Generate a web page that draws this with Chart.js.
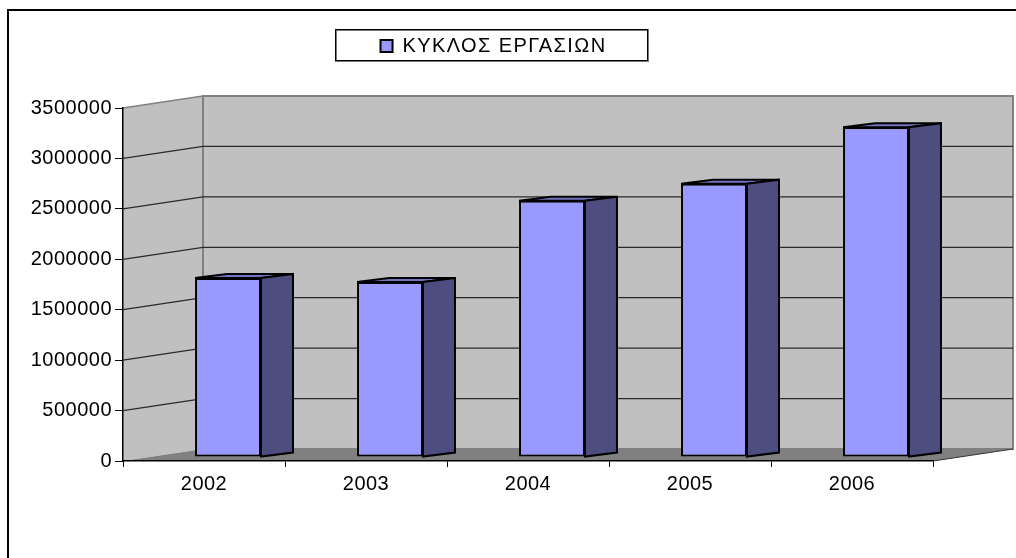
<!DOCTYPE html>
<html>
<head>
<meta charset="utf-8">
<title>ΚΥΚΛΟΣ ΕΡΓΑΣΙΩΝ</title>
<script src="https://cdn.jsdelivr.net/npm/chart.js@4"></script>
<style>
    html, body { margin: 0; padding: 0; background: #fff; }
    #wrap { width: 1016px; height: 558px; }
</style>
</head>
<body>
<div id="wrap"><canvas id="turnover-graph" width="1016" height="558"></canvas></div>
<script>
const categories = ['2002', '2003', '2004', '2005', '2006']
const turnover = [1775000, 1735000, 2540000, 2710000, 3270000]
const seriesName = 'ΚΥΚΛΟΣ ΕΡΓΑΣΙΩΝ'
const yMax = 3500000
const yStep = 500000

// 3d look: how far the back wall and the bars are pushed away from the front axes
const wallDepth = { x: 80, y: -12 }
const barShift = { x: 24, y: -4 }
const barDepth = { x: 32, y: -4 }

function poly(ctx, points, fill, stroke, width){
    ctx.beginPath()
    points.forEach((p, i) => i == 0 ? ctx.moveTo(p[0], p[1]) : ctx.lineTo(p[0], p[1]))
    ctx.closePath()
    if (fill) {
        ctx.fillStyle = fill
        ctx.fill()
    }
    if (stroke) {
        ctx.strokeStyle = stroke
        ctx.lineWidth = width
        ctx.stroke()
    }
}

const box3d = {
    id: 'box3d',
    beforeLayout(chart){
        // the legend text is wider in the reference than the tick labels
        const legend = chart.legend
        if (legend.spaced) return
        legend.spaced = true
        const drawLegend = legend.draw.bind(legend)
        legend.draw = () => {
            chart.ctx.letterSpacing = '1.4px'
            drawLegend()
            chart.ctx.letterSpacing = '0.5px'
        }
    },
    afterLayout(chart){
        // the legend sits left of the canvas centre, under the frame
        chart.legend.left += 16.5
        chart.legend.right += 16.5
        chart.legend.top = 30
    },
    beforeDraw(chart){
        const ctx = chart.ctx
        const { x, y } = chart.scales
        const l = x.left, r = x.right, t = y.top, b = y.bottom
        const dx = wallDepth.x, dy = wallDepth.y

        // the reference text is a bit wider than Liberation Sans
        ctx.letterSpacing = '0.5px'

        ctx.save()
        // outer frame, only left and top are visible
        ctx.strokeStyle = '#000'
        ctx.lineWidth = 2
        ctx.beginPath()
        ctx.moveTo(8, 558)
        ctx.lineTo(8, 10)
        ctx.lineTo(1016, 10)
        ctx.stroke()

        // legend frame
        ctx.strokeStyle = '#777'
        ctx.strokeRect(336, 30, 312, 31)
        ctx.strokeStyle = '#000'
        ctx.lineWidth = 1
        ctx.strokeRect(335.5, 29.5, 312, 31)

        poly(ctx, [[l, t], [l + dx, t + dy], [l + dx, b + dy], [l, b]], '#C0C0C0')
        poly(ctx, [[l + dx, t + dy], [r + dx, t + dy], [r + dx, b + dy], [l + dx, b + dy]], '#C0C0C0', '#808080', 2)
        poly(ctx, [[l, b], [l + dx, b + dy], [r + dx, b + dy], [r, b]], '#808080')

        // left wall top edge
        ctx.strokeStyle = '#808080'
        ctx.lineWidth = 1.5
        ctx.beginPath()
        ctx.moveTo(l, t)
        ctx.lineTo(l + dx, t + dy)
        ctx.stroke()

        // grid lines run along the left wall and then along the back wall
        y.ticks.forEach(tick => {
            if (tick.value == 0 || tick.value == yMax) return
            const py = y.getPixelForValue(tick.value)
            ctx.strokeStyle = '#2a2a2a'
            ctx.lineWidth = 1.3
            ctx.beginPath()
            ctx.moveTo(l, py)
            ctx.lineTo(l + dx, py + dy)
            ctx.lineTo(r + dx, py + dy)
            ctx.stroke()
        })

        // front right edge of the floor
        ctx.strokeStyle = '#333'
        ctx.lineWidth = 1
        ctx.beginPath()
        ctx.moveTo(r, b)
        ctx.lineTo(r + dx, b + dy)
        ctx.stroke()
        ctx.restore()
    },
    beforeDatasetsDraw(chart){
        const ctx = chart.ctx
        const dx = barDepth.x, dy = barDepth.y

        ctx.save()
        ctx.lineJoin = 'miter'
        chart.getDatasetMeta(0).data.forEach(bar => {
            const left = bar.x - bar.width / 2 + barShift.x
            const right = bar.x + bar.width / 2 + barShift.x
            const top = bar.y + barShift.y
            const bottom = bar.base + barShift.y

            poly(ctx, [[left, top], [left + dx, top + dy], [right + dx, top + dy], [right, top]], '#7373BF', '#000', 2)
            poly(ctx, [[right, top], [right + dx, top + dy], [right + dx, bottom + dy], [right, bottom]], '#4D4D80', '#000', 2)
        })
        ctx.restore()

        ctx.save()
        ctx.translate(barShift.x, barShift.y)
    },
    afterDatasetsDraw(chart){
        chart.ctx.restore()
    }
}

const ctx = document.getElementById('turnover-graph').getContext('2d')
const myChart = new Chart(ctx, {
    type: 'bar',
    data: {
        labels: categories,
        datasets: [{
            label: seriesName,
            data: turnover,
            backgroundColor: '#9999FF',
            borderColor: '#000',
            borderWidth: 2,
            borderSkipped: false,
            barPercentage: 0.407,
            categoryPercentage: 1
        }]
    },
    plugins: [box3d],
    options: {
        responsive: false,
        animation: false,
        layout: {
            padding: { top: 72, right: 83, left: 0, bottom: 0 }
        },
        plugins: {
            tooltip: { enabled: false },
            legend: {
                position: 'top',
                labels: {
                    boxWidth: 12,
                    boxHeight: 12,
                    padding: 6,
                    color: '#000',
                    font: { family: '"Liberation Sans"', size: 20 }
                }
            }
        },
        scales: {
            x: {
                afterFit(scale){ scale.height = 97 },
                grid: { offset: true, drawOnChartArea: false, color: '#000', tickLength: 6 },
                border: { color: '#000', width: 1.5 },
                ticks: {
                    color: '#000',
                    padding: 5,
                    maxRotation: 0,
                    font: { family: '"Liberation Sans"', size: 20 }
                }
            },
            y: {
                min: 0,
                max: yMax,
                afterFit(scale){ scale.width = 123 },
                grid: { drawOnChartArea: false, color: '#000', tickLength: 8 },
                border: { color: '#000', width: 1.5 },
                ticks: {
                    stepSize: yStep,
                    color: '#000',
                    padding: 3,
                    callback: value => String(value),
                    font: { family: '"Liberation Sans"', size: 20 }
                }
            }
        }
    }
})
</script>
</body>
</html>
